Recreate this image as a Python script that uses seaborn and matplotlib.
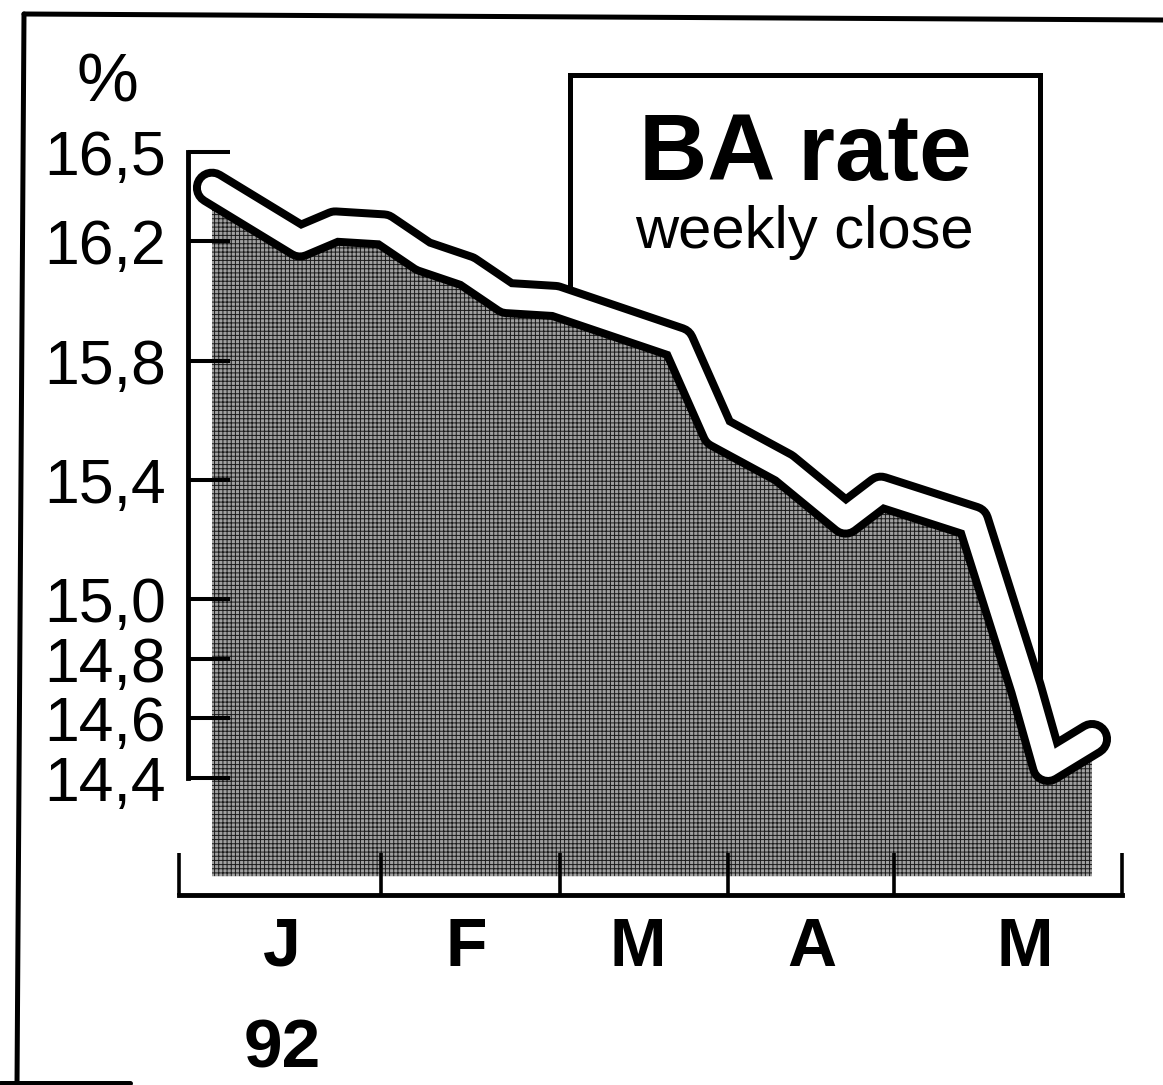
import matplotlib
matplotlib.use("Agg")
import matplotlib.pyplot as plt
import seaborn as sns
import pandas as pd
from matplotlib.patches import Rectangle
from matplotlib.lines import Line2D

# ---- data ----
week_pos = [0.0, 2.0, 2.8, 3.9, 4.8, 5.8, 6.7, 7.8, 8.8, 10.6, 11.5, 13.0, 14.4, 15.2, 17.3, 18.5, 19.0, 20.0]
ba_rate = [16.38, 16.20, 16.25, 16.24, 16.15, 16.10, 16.01, 16.00, 15.95, 15.86, 15.56, 15.44, 15.27, 15.36, 15.26, 14.70, 14.44, 14.53]
y_ticks = [14.4, 14.6, 14.8, 15.0, 15.4, 15.8, 16.2, 16.5]
y_tick_labels = ["14,4", "14,6", "14,8", "15,0", "15,4", "15,8", "16,2", "16,5"]
month_bounds = [-0.75, 3.84, 7.91, 11.73, 15.5, 20.68]
month_centers = [1.59, 5.77, 9.68, 13.64, 18.48]
month_labels = ["J", "F", "M", "A", "M"]
year_label = "92"
unit_label = "%"
title = "BA rate"
subtitle = "weekly close"
area_base = 14.07

sns.set_theme(style="white")
plt.rcParams['font.family'] = ['Liberation Sans', 'DejaVu Sans']
plt.rcParams['hatch.linewidth'] = 0.7

W, H = 1163, 1085
fig = plt.figure(figsize=(W / 100, H / 100), dpi=100)
fig.patch.set_facecolor('white')
ax = fig.add_axes([0, 0, 1, 1])
ax.set_facecolor('white')
ax.set_xlim(-4.818, 21.614)
ax.set_ylim(13.3691, 17.0101)

df = pd.DataFrame({'week': week_pos, 'rate': ba_rate})

# title box (partly hidden behind the area)
box = Rectangle((8.136, 14.15), 18.818 - 8.136, 16.758 - 14.15, fill=False,
                edgecolor='black', linewidth=3.6, zorder=1)
ax.add_patch(box)

ax.fill_between(df['week'], df['rate'], area_base, facecolor='#a0a0a0',
                edgecolor='#1a1a1a', hatch='++++', linewidth=0, zorder=2)
sns.lineplot(data=df, x='week', y='rate', color='black', linewidth=27.5,
             solid_capstyle='round', solid_joinstyle='round', ax=ax,
             estimator=None, sort=False, zorder=3)
sns.lineplot(data=df, x='week', y='rate', color='white', linewidth=16,
             solid_capstyle='round', solid_joinstyle='round', ax=ax,
             estimator=None, sort=False, zorder=4)
ax.set_xlabel('')
ax.set_ylabel('')

# axes
ax.set_axisbelow(False)
for s in ['top', 'right']:
    ax.spines[s].set_visible(False)
ax.spines['left'].set_position(('data', -0.545))
ax.spines['left'].set_bounds(14.4, 16.5)
ax.spines['bottom'].set_position(('data', 14.007))
ax.spines['bottom'].set_bounds(-0.75, 20.68)
for s in ['left', 'bottom']:
    ax.spines[s].set_linewidth(3.5)
    ax.spines[s].set_color('black')
    ax.spines[s].set_zorder(2.6)

ax.set_yticks(y_ticks, labels=y_tick_labels)
ax.tick_params(axis='y', left=True, direction='in', length=30, width=2.9,
               pad=16, labelsize=45, colors='black')
ax.set_xticks(month_bounds, labels=[''] * len(month_bounds))
ax.set_xticks(month_centers, labels=month_labels, minor=True)
ax.tick_params(axis='x', which='major', bottom=True, direction='in',
               length=30, width=2.6, colors='black')
ax.tick_params(axis='x', which='minor', bottom=True, length=0, pad=15,
               labelsize=49, colors='black')
for lab in ax.get_xticklabels(minor=True):
    lab.set_fontweight('bold')

# texts
ax.text(107 / W, 1 - 83 / H, unit_label, transform=ax.transAxes, ha='center',
        va='center', fontsize=50, color='black')
ax.text(805 / W, 1 - 180 / H, title, transform=ax.transAxes, ha='center',
        va='baseline', fontsize=68, fontweight='bold', color='black')
ax.text(804 / W, 1 - 248 / H, subtitle, transform=ax.transAxes, ha='center',
        va='baseline', fontsize=43, color='black')
ax.text(282 / W, 1 - 1050 / H, year_label, transform=ax.transAxes, ha='center',
        va='center', fontsize=50, fontweight='bold', color='black')

# outer frame of the clipping
frame = [((24, 14), (1163, 20)), ((24, 14), (17, 1085)), ((0, 1083), (130, 1083))]
for (x0, y0), (x1, y1) in frame:
    ax.add_line(Line2D([x0 / W, x1 / W], [1 - y0 / H, 1 - y1 / H], transform=ax.transAxes,
                       color='black', linewidth=3.6, clip_on=False, zorder=5))

fig.savefig('out.png', dpi=100, facecolor='white')
